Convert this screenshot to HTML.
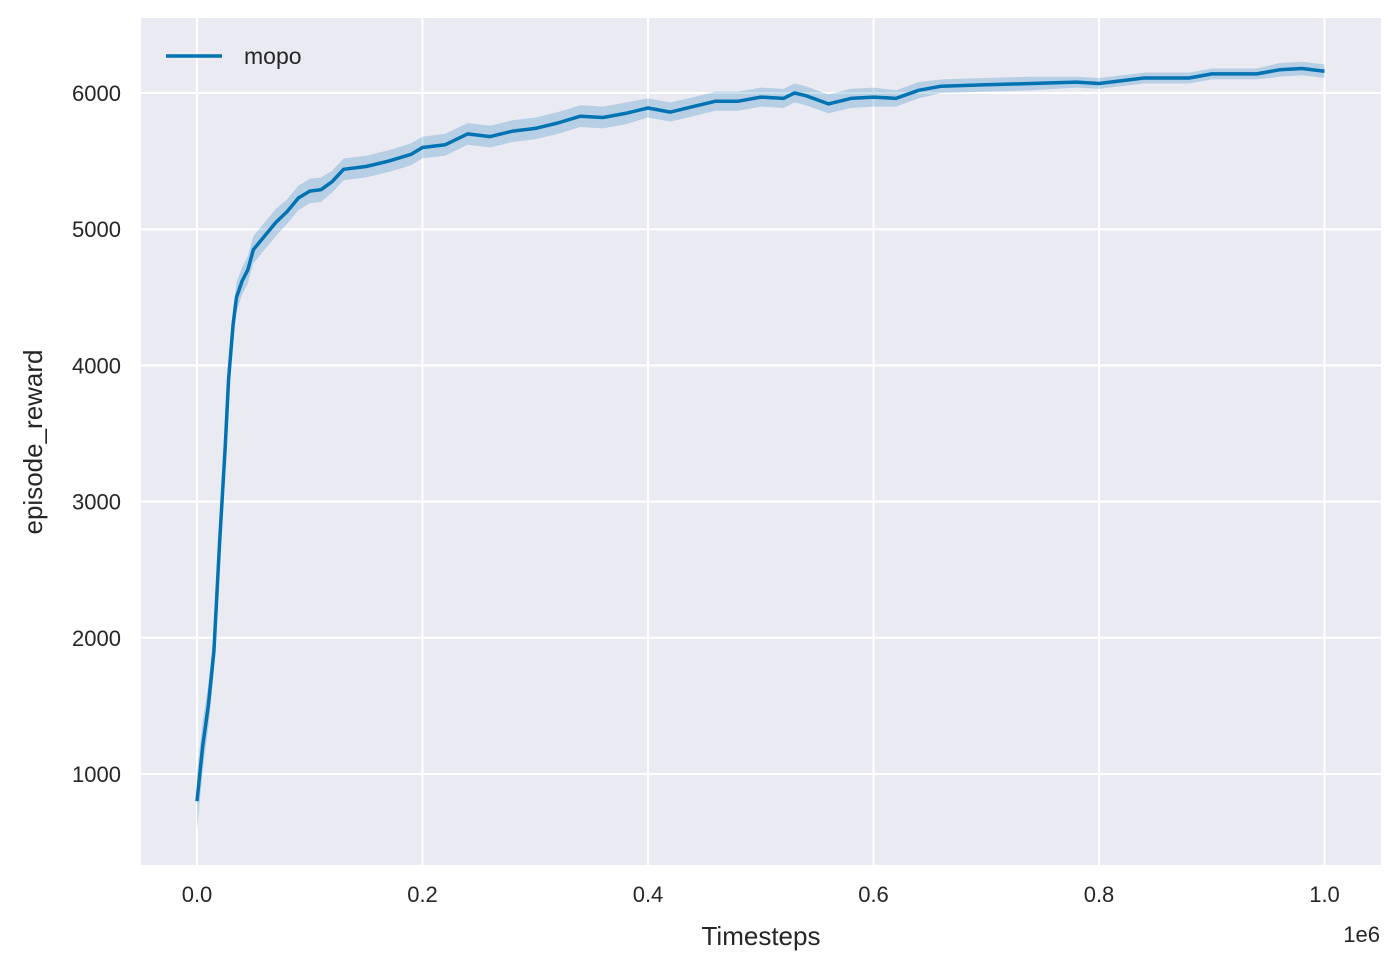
<!DOCTYPE html>
<html><head><meta charset="utf-8"><style>
body{margin:0;background:#fff;font-family:"Liberation Sans",sans-serif}
svg text{font-family:"Liberation Sans",sans-serif;fill:#262626}
</style></head><body>
<svg id="chart" width="1400" height="971" viewBox="0 0 1400 971">
<rect x="141" y="18" width="1240" height="847" fill="#eaeaf2"/>
<g id="grid"></g>
<g id="ticks"></g>
<path id="band" fill="#0173b2" fill-opacity="0.22" stroke="none"/>
<path id="line" fill="none" stroke="#0173b2" stroke-width="3.5" stroke-linejoin="round"/>
<text x="761" y="945" font-size="26" text-anchor="middle">Timesteps</text>
<text x="1380" y="942" font-size="22" text-anchor="end">1e6</text>
<text transform="translate(42,442) rotate(-90)" font-size="26" text-anchor="middle">episode_reward</text>
<g>
<line x1="166" y1="56" x2="222" y2="56" stroke="#0173b2" stroke-width="3.5"/>
<text x="244" y="64" font-size="23">mopo</text>
</g>
</svg>
<script>
const xs=[0,0.005,0.01,0.015,0.02,0.025,0.028,0.032,0.035,0.04,0.045,0.05,0.06,0.07,0.08,0.09,0.1,0.11,0.12,0.13,0.15,0.17,0.19,0.2,0.22,0.24,0.26,0.28,0.3,0.32,0.34,0.36,0.38,0.4,0.42,0.44,0.46,0.48,0.5,0.52,0.53,0.54,0.56,0.58,0.6,0.62,0.64,0.66,0.7,0.74,0.78,0.8,0.84,0.88,0.9,0.94,0.96,0.98,1.0];
const ys=[800,1200,1500,1900,2700,3400,3900,4300,4500,4620,4700,4850,4950,5050,5130,5230,5280,5290,5350,5440,5460,5500,5550,5600,5620,5700,5680,5720,5740,5780,5830,5820,5850,5890,5860,5900,5940,5940,5970,5960,6000,5980,5920,5960,5970,5960,6020,6050,6060,6070,6080,6070,6110,6110,6140,6140,6170,6180,6160];
const errs=[220,180,160,150,140,130,120,110,110,100,100,100,100,100,90,90,90,90,80,80,80,80,80,80,80,80,80,80,80,80,80,80,80,70,70,70,70,70,70,70,70,70,70,70,70,60,60,50,50,50,40,40,40,40,40,40,50,50,50];
const xTicks=[0,0.2,0.4,0.6,0.8,1.0];
const xTickLabels=["0.0","0.2","0.4","0.6","0.8","1.0"];
const yTicks=[1000,2000,3000,4000,5000,6000];
const sx=v=>197+v*1127.5;
const sy=v=>93+(6000-v)*0.1362;
const ns="http://www.w3.org/2000/svg";
const grid=document.getElementById('grid'),ticks=document.getElementById('ticks');
xTicks.forEach((t,i)=>{
 const l=document.createElementNS(ns,'line');
 
 
 l.setAttribute('x1',sx(t));l.setAttribute('x2',sx(t));l.setAttribute('y1',18);l.setAttribute('y2',865);
 l.setAttribute('stroke','#fff');l.setAttribute('stroke-width','2');grid.appendChild(l);
 const tx=document.createElementNS(ns,'text');
 
 
 tx.setAttribute('x',sx(t));tx.setAttribute('y',902);tx.setAttribute('font-size','22');tx.setAttribute('text-anchor','middle');
 tx.textContent=xTickLabels[i];ticks.appendChild(tx);
});
yTicks.forEach(t=>{
 const l=document.createElementNS(ns,'line');
 
 
 l.setAttribute('x1',141);l.setAttribute('x2',1381);l.setAttribute('y1',sy(t));l.setAttribute('y2',sy(t));
 l.setAttribute('stroke','#fff');l.setAttribute('stroke-width','2');grid.appendChild(l);
 const tx=document.createElementNS(ns,'text');
 
 
 tx.setAttribute('x',121);tx.setAttribute('y',sy(t)+8);tx.setAttribute('font-size','22');tx.setAttribute('text-anchor','end');
 tx.textContent=t;ticks.appendChild(tx);
});
let d='';xs.forEach((x,i)=>{d+=(i?'L':'M')+sx(x).toFixed(1)+' '+sy(ys[i]).toFixed(1);});
document.getElementById('line').setAttribute('d',d);
let b='';xs.forEach((x,i)=>{b+=(i?'L':'M')+sx(x).toFixed(1)+' '+sy(ys[i]+errs[i]).toFixed(1);});
for(let i=xs.length-1;i>=0;i--){b+='L'+sx(xs[i]).toFixed(1)+' '+sy(ys[i]-errs[i]).toFixed(1);}
document.getElementById('band').setAttribute('d',b+'Z');
</script>
</body></html>
